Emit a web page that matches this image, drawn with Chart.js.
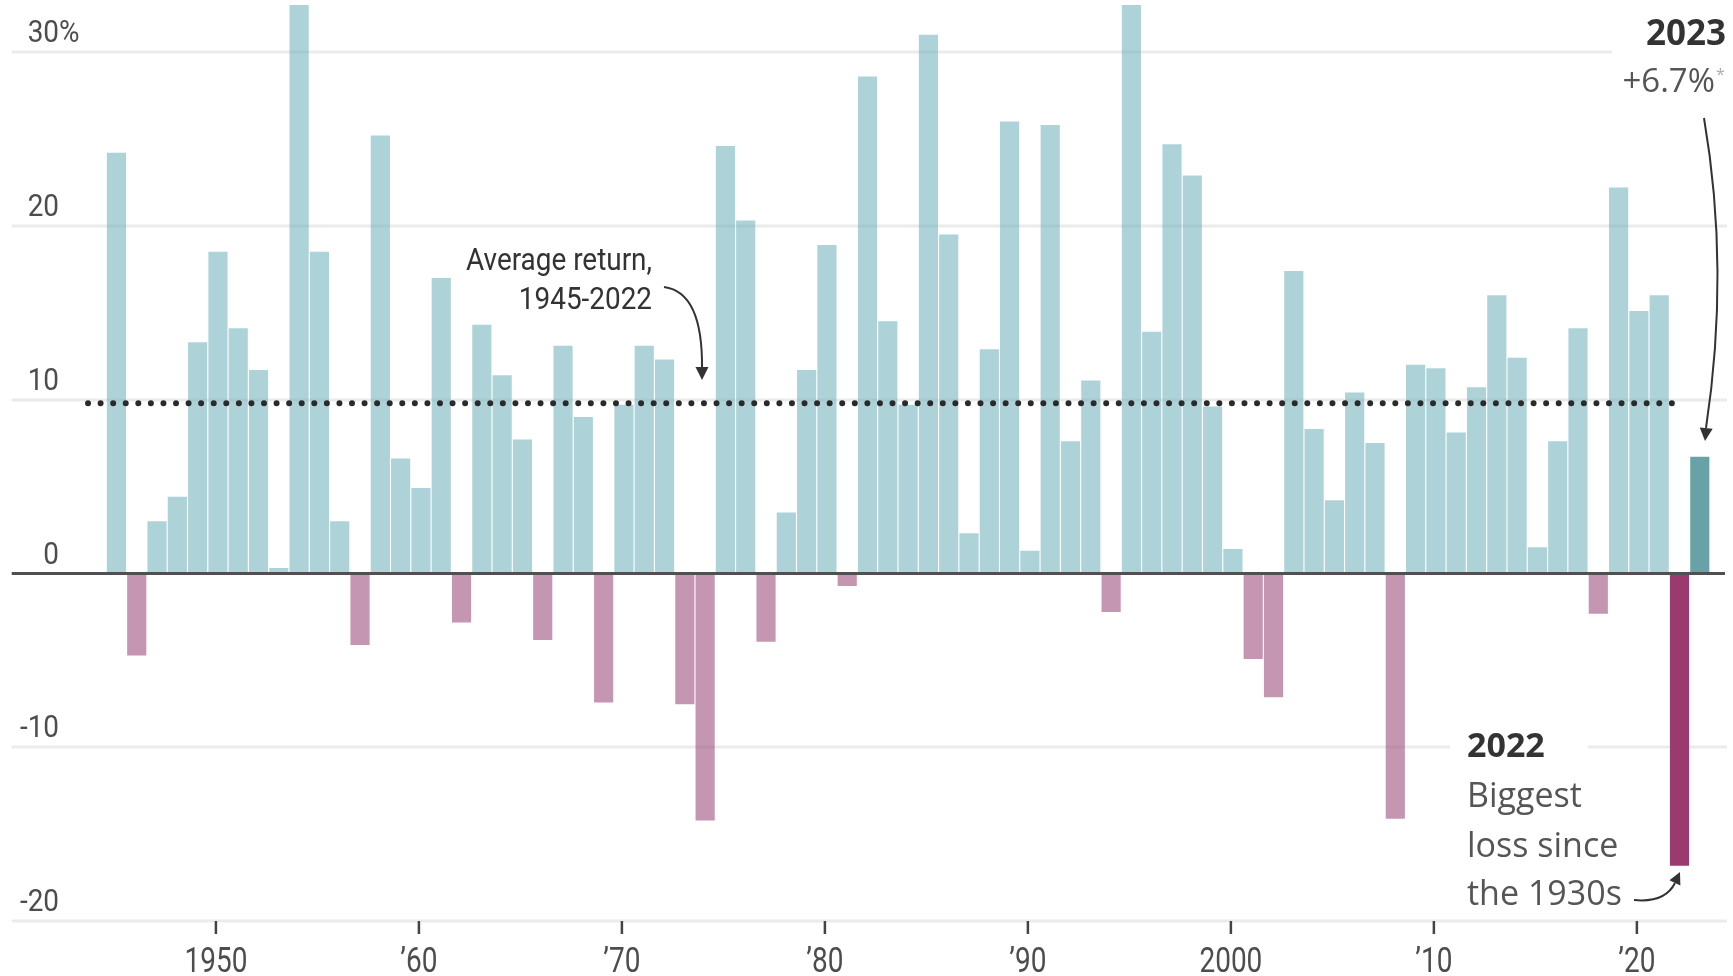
<!DOCTYPE html>
<html>
<head>
<meta charset="utf-8">
<title>Annual returns</title>
<style>
  body { margin: 0; background: #fff; }
  #wrap { width: 1733px; height: 976px; }
</style>
</head>
<body>
<div id="wrap"><canvas id="returnsChart" width="1733" height="976"></canvas></div>
<script src="https://cdn.jsdelivr.net/npm/chart.js@4/dist/chart.umd.min.js"></script>
<script>
// annual returns, % (1954 and 1995 are cut off at the top)
const years = [
  1945, 1946, 1947, 1948, 1949,
  1950, 1951, 1952, 1953, 1954, 1955, 1956, 1957, 1958, 1959,
  1960, 1961, 1962, 1963, 1964, 1965, 1966, 1967, 1968, 1969,
  1970, 1971, 1972, 1973, 1974, 1975, 1976, 1977, 1978, 1979,
  1980, 1981, 1982, 1983, 1984, 1985, 1986, 1987, 1988, 1989,
  1990, 1991, 1992, 1993, 1994, 1995, 1996, 1997, 1998, 1999,
  2000, 2001, 2002, 2003, 2004, 2005, 2006, 2007, 2008, 2009,
  2010, 2011, 2012, 2013, 2014, 2015, 2016, 2017, 2018, 2019,
  2020, 2021, 2022, 2023
]
const returns = [
  24.2, -4.7, 3.0, 4.4, 13.3,
  18.5, 14.1, 11.7, 0.3, 33.0, 18.5, 3.0, -4.1, 25.2, 6.6,
  4.9, 17.0, -2.8, 14.3, 11.4, 7.7, -3.8, 13.1, 9.0, -7.4,
  9.7, 13.1, 12.3, -7.5, -14.2, 24.6, 20.3, -3.9, 3.5, 11.7,
  18.9, -0.7, 28.6, 14.5, 9.7, 31.0, 19.5, 2.3, 12.9, 26.0,
  1.3, 25.8, 7.6, 11.1, -2.2, 33.0, 13.9, 24.7, 22.9, 9.6,
  1.4, -4.9, -7.1, 17.4, 8.3, 4.2, 10.4, 7.5, -14.1, 12.0,
  11.8, 8.1, 10.7, 16.0, 12.4, 1.5, 7.6, 14.1, -2.3, 22.2,
  15.1, 16.0, -16.8, 6.7
]
const averageReturn = 9.8
const averageSpan = [1943.6, 2022.2]

const yTicks = [-20, -10, 0, 10, 20, 30]
const yTickLabels = ['-20', '-10', '0', '10', '20', '30']
const xTicks = [1950, 1960, 1970, 1980, 1990, 2000, 2010, 2020]
const xTickLabels = ['1950', '\u201960', '\u201970', '\u201980', '\u201990', '2000', '\u201910', '\u201920']

const narrowFace = "Roboto, 'Liberation Sans', sans-serif"
const sans = "'Open Sans', 'Noto Sans', sans-serif"

function barColor(ctx) {
  let yr = years[ctx.dataIndex]
  let v = returns[ctx.dataIndex]
  if (yr === 2023) return '#68a2a6'
  if (yr === 2022) return '#9b3a6f'
  return v < 0 ? 'rgba(158, 80, 127, 0.6)' : 'rgba(110, 176, 184, 0.57)'
}

// squeezed text, stands in for the narrow face of the original
function narrowText(ctx, txt, x, y, size, align, squeeze) {
  ctx.save()
  ctx.translate(x, y)
  ctx.scale(squeeze, 1)
  ctx.font = size + 'px ' + narrowFace
  ctx.textAlign = align
  ctx.fillText(txt, 0, 0)
  ctx.restore()
}

function arrowHead(ctx, tipX, tipY, fromX, fromY, len, half) {
  let ang = Math.atan2(tipY - fromY, tipX - fromX)
  ctx.beginPath()
  ctx.moveTo(tipX, tipY)
  ctx.lineTo(tipX - len * Math.cos(ang) + half * Math.sin(ang), tipY - len * Math.sin(ang) - half * Math.cos(ang))
  ctx.lineTo(tipX - len * Math.cos(ang) - half * Math.sin(ang), tipY - len * Math.sin(ang) + half * Math.cos(ang))
  ctx.closePath()
  ctx.fill()
}

// grid under the bars
const gridPlugin = {
  id: 'grid',
  beforeDatasetsDraw(chart) {
    const { ctx, chartArea: a, scales: { y } } = chart
    ctx.save()
    ctx.strokeStyle = '#ebebeb'
    ctx.lineWidth = 3
    yTicks.forEach(v => {
      if (v === 0) return
      let py = Math.round(y.getPixelForValue(v))
      ctx.beginPath()
      ctx.moveTo(a.left, py)
      ctx.lineTo(a.right, py)
      ctx.stroke()
    })
    ctx.restore()
  }
}

// zero line, axis labels and notes on top
const notesPlugin = {
  id: 'notes',
  afterDatasetsDraw(chart) {
    const { ctx, chartArea: a, scales: { x, y } } = chart
    ctx.save()

    let zero = y.getPixelForValue(0)
    ctx.strokeStyle = '#505050'
    ctx.lineWidth = 3
    ctx.beginPath()
    ctx.moveTo(a.left, zero)
    ctx.lineTo(a.right - 2, zero)
    ctx.stroke()

    // y labels sit above their grid lines
    ctx.fillStyle = '#4d4d4d'
    ctx.textBaseline = 'alphabetic'
    yTicks.forEach((v, i) => {
      let py = y.getPixelForValue(v) - 10
      narrowText(ctx, yTickLabels[i], 59, py, 31, 'right', 0.9)
      if (v === 30) narrowText(ctx, '%', 59, py, 31, 'left', 0.9)
    })

    // x ticks and labels
    ctx.strokeStyle = '#444'
    ctx.lineWidth = 2.5
    xTicks.forEach((t, i) => {
      let px = x.getPixelForValue(t - 0.1)
      ctx.beginPath()
      ctx.moveTo(px, a.bottom)
      ctx.lineTo(px, a.bottom + 13)
      ctx.stroke()
      narrowText(ctx, xTickLabels[i], px, 972, 35, 'center', 0.8)
    })

    // average note
    ctx.fillStyle = '#333'
    narrowText(ctx, 'Average return,', 652, 270, 31, 'right', 0.9)
    narrowText(ctx, '1945-2022', 652, 309, 31, 'right', 0.9)
    ctx.strokeStyle = '#333'
    ctx.lineWidth = 2
    ctx.beginPath()
    ctx.moveTo(664, 287)
    ctx.quadraticCurveTo(703, 292, 702, 369)
    ctx.stroke()
    arrowHead(ctx, 702, 380, 702, 360, 13, 6.5)

    // 2023 note
    ctx.fillStyle = '#fff'
    ctx.fillRect(1612, 0, 121, 100)
    ctx.fillStyle = '#333'
    ctx.font = 'bold 35px ' + sans
    ctx.textAlign = 'right'
    ctx.fillText('2023', 1726, 45)
    ctx.fillStyle = '#555'
    ctx.font = '33px ' + sans
    ctx.fillText('+6.7%', 1715, 92)
    ctx.fillStyle = '#aaa'
    ctx.font = '16px ' + sans
    ctx.textAlign = 'left'
    ctx.fillText('*', 1716, 80)
    ctx.strokeStyle = '#333'
    ctx.fillStyle = '#333'
    ctx.beginPath()
    ctx.moveTo(1704, 118)
    ctx.quadraticCurveTo(1730, 270, 1706, 428)
    ctx.stroke()
    arrowHead(ctx, 1705, 441, 1707, 420, 13, 6.5)

    // 2022 note
    ctx.fillStyle = '#fff'
    ctx.fillRect(1450, 726, 138, 40)
    ctx.fillStyle = '#333'
    ctx.font = 'bold 34px ' + sans
    ctx.textAlign = 'left'
    ctx.fillText('2022', 1467, 757)
    ctx.fillStyle = '#555'
    ctx.font = '34px ' + sans
    ctx.fillText('Biggest', 1467, 807)
    ctx.fillText('loss since', 1467, 857)
    ctx.fillText('the 1930s', 1467, 905)
    ctx.beginPath()
    ctx.moveTo(1634, 900)
    ctx.quadraticCurveTo(1665, 903, 1675, 883)
    ctx.stroke()
    ctx.fillStyle = '#333'
    arrowHead(ctx, 1680, 872, 1673, 887, 12, 6)

    ctx.restore()
  }
}

const chart = new Chart(document.getElementById('returnsChart'), {
  type: 'bar',
  data: {
    datasets: [
      {
        type: 'line',
        data: averageSpan.map(yr => ({ x: yr, y: averageReturn })),
        borderColor: '#2a2a2a',
        borderWidth: 6,
        borderDash: [0, 12.57],
        borderCapStyle: 'round',
        pointRadius: 0,
        order: 0
      },
      {
        type: 'bar',
        data: years.map((yr, i) => ({ x: yr, y: returns[i] })),
        backgroundColor: barColor,
        borderWidth: 0,
        barThickness: 18.5,
        order: 1
      }
    ]
  },
  options: {
    responsive: false,
    animation: false,
    devicePixelRatio: 1,
    events: [],
    layout: { padding: { left: 11.7, right: 6, top: 5, bottom: 55 } },
    plugins: { legend: { display: false }, tooltip: { enabled: false } },
    scales: {
      x: { type: 'linear', min: 1939.84, max: 2024.34, offset: false, display: false },
      y: { min: -20, max: 32.73, display: false }
    }
  },
  plugins: [gridPlugin, notesPlugin]
})
</script>
</body>
</html>
